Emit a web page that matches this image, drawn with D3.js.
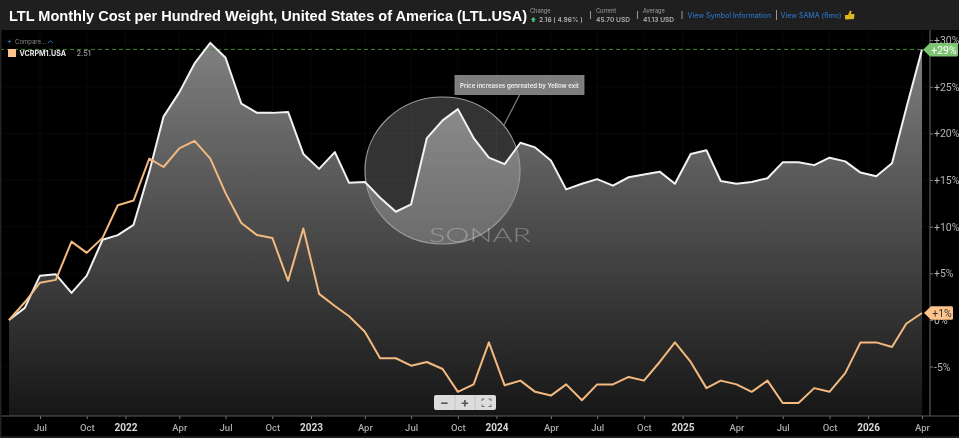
<!DOCTYPE html>
<html><head><meta charset="utf-8">
<script src="https://cdn.jsdelivr.net/npm/d3@7"></script>
<style>
html,body{margin:0;padding:0;background:#000;overflow:hidden}
svg{display:block;filter:blur(.4px)}
text{font-family:Inter,"Liberation Sans",sans-serif}
</style></head><body><svg id="c" width="959" height="438"></svg>
<script>
const startMonth = [2021, 4];
const ltlValues = [0,1.3,4.75,4.9,2.9,4.75,8.6,9.1,10.2,15.9,
  21.8,24.4,27.5,29.7,28.1,23.2,22.2,22.2,22.3,17.8,
  16.2,18.0,14.7,14.8,13.1,11.6,12.4,19.5,21.4,22.6,
  19.5,17.4,16.7,19.0,18.5,17.1,14.0,14.6,15.1,14.4,
  15.3,15.6,15.9,14.6,17.8,18.2,14.9,14.6,14.8,15.2,
  16.9,16.9,16.6,17.4,17.0,15.8,15.4,16.8,22.7,29.0];
const vcrpmValues = [0,1.9,4.0,4.3,8.4,7.2,8.8,12.3,12.8,17.3,
  16.4,18.4,19.2,17.3,13.6,10.4,9.1,8.8,4.2,9.8,
  2.8,1.5,0.4,-1.25,-4.1,-4.1,-4.9,-4.5,-5.25,-7.7,
  -6.9,-2.4,-7.0,-6.5,-7.7,-8.1,-6.9,-8.6,-6.9,-6.9,
  -6.1,-6.5,-4.5,-2.4,-4.5,-7.3,-6.5,-6.9,-7.7,-6.5,
  -8.9,-8.9,-7.3,-7.7,-5.7,-2.4,-2.4,-2.9,-0.4,0.75];
const yTicks = [30,25,20,15,10,5,0,-5];
const xTicks = [[2021,6,1,"Jul"],[2021,9,1,"Oct"],[2021,11,16,"2022"],[2022,3,1,"Apr"],[2022,6,1,"Jul"],[2022,9,1,"Oct"],
  [2022,11,16,"2023"],[2023,3,1,"Apr"],[2023,6,1,"Jul"],[2023,9,1,"Oct"],[2023,11,16,"2024"],[2024,3,1,"Apr"],[2024,6,1,"Jul"],[2024,9,1,"Oct"],
  [2024,11,16,"2025"],[2025,3,1,"Apr"],[2025,6,1,"Jul"],[2025,9,1,"Oct"],[2025,11,16,"2026"],[2026,3,1,"Apr"]];
const titleText = "LTL Monthly Cost per Hundred Weight, United States of America (LTL.USA)";
const noteText = "Price increases genreated by Yellow exit";

const tickDate = d => new Date(Date.UTC(d[0], d[1], d[2]));
const isYear = d => /^\d{4}$/.test(d[3]);
const months = ltlValues.map((_, i) => new Date(Date.UTC(startMonth[0], startMonth[1] + i, 1)));
const svg = d3.select("#c");
const x = d3.scaleUtc().domain([months[0], months[months.length-1]]).range([9, 922]);
const y = d3.scaleLinear().domain([0, -5]).range([320, 366.65]);
const yTop = 30, yBot = 416, axisX = 930;

const defs = svg.append("defs");
const g = defs.append("linearGradient").attr("id","ag").attr("gradientUnits","userSpaceOnUse")
  .attr("x1",0).attr("x2",0).attr("y1",43).attr("y2",yBot);
g.append("stop").attr("offset",0).attr("stop-color","#808080");
g.append("stop").attr("offset",1).attr("stop-color","#161616");

svg.append("rect").attr("width",959).attr("height",438).attr("fill","#000");
// faint grid
svg.append("g").selectAll("line").data(xTicks).join("line")
  .attr("x1",d=>x(tickDate(d))).attr("x2",d=>x(tickDate(d)))
  .attr("y1",yTop).attr("y2",yBot).attr("stroke","#fff").attr("stroke-opacity",.035);
svg.append("g").selectAll("line").data(yTicks).join("line")
  .attr("x1",0).attr("x2",axisX).attr("y1",d=>y(d)).attr("y2",d=>y(d)).attr("stroke","#fff").attr("stroke-opacity",.03);

const pts = months.map((d,i)=>({d, a:ltlValues[i], b:vcrpmValues[i]}));
svg.append("path").datum(pts).attr("fill","url(#ag)")
  .attr("d", d3.area().x(d=>x(d.d)).y0(yBot).y1(d=>y(d.a)));

// highlight circle
svg.append("ellipse").attr("cx",442.5).attr("cy",170.5).attr("rx",77.5).attr("ry",73.5)
  .attr("fill","#fff").attr("fill-opacity",.2).attr("stroke","#9a9a9a").attr("stroke-width",1.2);
svg.append("line").attr("x1",520).attr("y1",94).attr("x2",504).attr("y2",125).attr("stroke","#808080").attr("stroke-width",1.2);

// dashed high line
svg.append("line").attr("x1",0).attr("x2",925).attr("y1",y(29)).attr("y2",y(29))
  .attr("stroke","#3f8a2c").attr("stroke-width",1).attr("stroke-dasharray","4 3");

// watermark
svg.append("text").attr("x",429).attr("y",241.5)
  .attr("fill","#fff").attr("fill-opacity",.3).attr("font-size",20).attr("font-weight",300)
  .attr("textLength",102).attr("lengthAdjust","spacingAndGlyphs")
  .style("font-family","Lato,Inter,sans-serif").text("SONAR");

const line = k => d3.line().x(d=>x(d.d)).y(d=>y(d[k]));
svg.append("path").datum(pts).attr("fill","none").attr("stroke","#f2f2f2").attr("stroke-width",2).attr("stroke-linejoin","round").attr("d",line("a"));
svg.append("path").datum(pts).attr("fill","none").attr("stroke","#f3b97f").attr("stroke-width",2).attr("stroke-linejoin","round").attr("d",line("b"));

// note box
svg.append("rect").attr("x",455).attr("y",75.5).attr("width",129).attr("height",19).attr("fill","#7d7d7d").attr("stroke","#8e8e8e").attr("stroke-width",.8);
svg.append("text").attr("x",519.5).attr("y",87.5).attr("text-anchor","middle").attr("fill","#eee").attr("font-size",6.1).attr("font-weight",600).text(noteText);

// y axis
const ya = svg.append("g").attr("transform",`translate(${axisX},0)`)
  .call(d3.axisRight(y).tickValues(yTicks).tickSize(3).tickPadding(1).tickFormat(d=>(d>0?"+":"")+d+"%"));
ya.select(".domain").remove();
ya.selectAll("line").attr("stroke","#777");
ya.selectAll("text").attr("fill","#b5b5b5").attr("font-size",10.5).style("font-family","Roboto,Inter,sans-serif");
svg.append("line").attr("x1",axisX).attr("x2",axisX).attr("y1",yTop).attr("y2",yBot).attr("stroke","#6a6a6a").attr("stroke-width",1);

// x axis
const xa = svg.append("g").attr("transform",`translate(0,${yBot})`)
  .call(d3.axisBottom(x).tickValues(xTicks.map(tickDate)).tickSize(3).tickPadding(5)
    .tickFormat((d,i)=>xTicks[i][3]));
xa.select(".domain").remove();
xa.selectAll("line").attr("stroke","#777");
xa.selectAll("text").attr("fill",(d,i)=>isYear(xTicks[i])?"#d8d8d8":"#a8a8a8")
  .attr("font-weight",(d,i)=>isYear(xTicks[i])?700:500).attr("font-size",(d,i)=>isYear(xTicks[i])?10:9.5).style("font-family","Roboto,Inter,sans-serif");
svg.append("line").attr("x1",0).attr("x2",959).attr("y1",yBot).attr("y2",yBot).attr("stroke","#5c5c5c");
svg.append("rect").attr("x",0).attr("y",436).attr("width",959).attr("height",2).attr("fill","#1a1a1a");
svg.append("rect").attr("x",0).attr("y",30).attr("width",1.5).attr("height",408).attr("fill","#222");

// end tags
function tag(yc,x0,x1,fill,label,tc){
  const h=6.8;
  svg.append("path").attr("fill",fill).attr("d",d3.line()([[x0,yc],[x0+7,yc-h],[x1-1,yc-h],[x1,yc-h+1],[x1,yc+h-1],[x1-1,yc+h],[x0+7,yc+h],[x0,yc]]));
  svg.append("text").attr("x",(x0+7+x1)/2).attr("y",yc+3.8).attr("text-anchor","middle").attr("fill",tc).attr("font-size",10.5).style("font-family","Roboto,Inter,sans-serif").text(label);
}
tag(y(29)+.3,923,958,"#7cc472","+29%","#fff");
tag(y(0.75),924,953,"#fcc48a","+1%","#333");

// header
svg.append("rect").attr("width",959).attr("height",30).attr("fill","#1f1f1f");
svg.append("text").attr("x",9).attr("y",20.5).attr("fill","#fff").attr("font-size",14.55).attr("font-weight",700).style("font-family","'Liberation Sans',sans-serif").text(titleText);
const small=(tx,ty,s,fill,fs,w)=>svg.append("text").attr("x",tx).attr("y",ty).attr("fill",fill).attr("font-size",fs).attr("font-weight",w||400).text(s);
small(530,12.5,"Change","#a0a0a0",5.6);
small(539,22,"2.16 ( 4.96% )","#b0b0b0",6.6,600);
svg.append("path").attr("fill","#3fc07a").attr("d","M533.3 17 L536 19.8 L534.5 19.8 L534.5 22 L532.2 22 L532.2 19.8 L530.7 19.8 Z");
small(596,12.5,"Current","#a0a0a0",5.6);
small(596,22,"45.70 USD","#b0b0b0",6.6,600);
small(643,12.5,"Average","#a0a0a0",5.6);
small(643,22,"41.13 USD","#b0b0b0",6.6,600);
[[590.5,11,19],[637.5,11,19],[682,11,19],[776.5,10,20]].forEach(d=>svg.append("line").attr("x1",d[0]).attr("x2",d[0]).attr("y1",d[1]).attr("y2",d[2]).attr("stroke","#9a9a9a").attr("stroke-width",1));
small(687.5,18,"View Symbol Information","#2a6fbd",7,500);
small(780.5,18,"View SAMA (6mo)","#2a6fbd",7,500);
svg.append("path").attr("fill","#d9b81e").attr("d","M845 15 L848 15 L850 10.5 L851.5 11 L851 14 L854.5 14 L854 19 L846 19.5 L845 19 Z");

// legend
small(7,44,"+","#2a6fbd",7,700);
small(15,44,"Compare...","#8a8a8a",6);
svg.append("path").attr("fill","none").attr("stroke","#2a6fbd").attr("d","M48 43 L50.5 40.8 L53 43");
svg.append("rect").attr("x",8).attr("y",49).attr("width",8).attr("height",8).attr("fill","#fcc48a");
small(19.5,56,"VCRPM1.USA","#e8e8e8",7.1,700);
small(76.5,56,"2.51","#9a9a9a",7.4,500);

// zoom control
svg.append("rect").attr("x",434).attr("y",395).attr("width",62).attr("height",15).attr("rx",2).attr("fill","#dcdcdc");
[[455,"#c4c4c4"],[475,"#c4c4c4"]].forEach(d=>svg.append("line").attr("x1",d[0]).attr("x2",d[0]).attr("y1",395).attr("y2",410).attr("stroke",d[1]));
svg.append("text").attr("x",444.5).attr("y",406.5).attr("text-anchor","middle").attr("fill","#555").attr("font-size",13).attr("font-weight",700).text("−");
svg.append("text").attr("x",465).attr("y",406.5).attr("text-anchor","middle").attr("fill","#555").attr("font-size",13).attr("font-weight",700).text("+");
svg.append("path").attr("fill","none").attr("stroke","#666").attr("d","M482 401 V399 H484.5 M488.5 399 H491 V401 M491 404.5 V406.5 H488.5 M484.5 406.5 H482 V404.5");
</script></body></html>
